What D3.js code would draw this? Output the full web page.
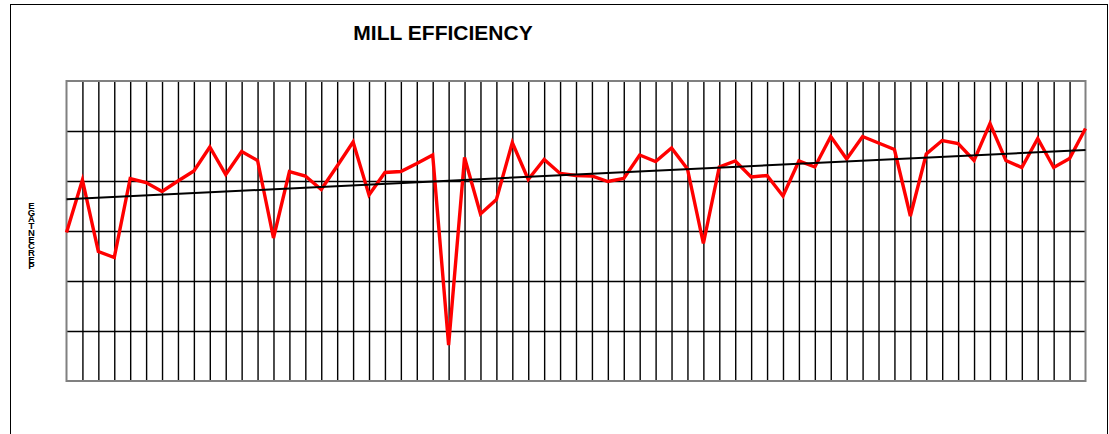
<!DOCTYPE html>
<html>
<head>
<meta charset="utf-8">
<script src="https://cdn.jsdelivr.net/npm/d3@7"></script>
<style>
  body { margin: 0; background: #fff; }
  svg { display: block; font-family: "Liberation Sans", Arial, sans-serif; }
</style>
</head>
<body>
<div id="chart"></div>
<script>
// chart text
const title = "MILL EFFICIENCY";
const yLabel = "PERCENTAGE";

// efficiency readings, one per period
const efficiency = [
  69.7, 80.2, 65.9, 64.7, 80.5, 79.7, 77.9, 80.0, 82.0, 86.8,
  81.3, 85.9, 84.1, 68.6, 81.9, 81.0, 78.3, 83.0, 87.8, 77.2,
  81.7, 81.9, 83.5, 85.2, 47.2, 84.7, 73.4, 76.3, 87.7, 80.3,
  84.3, 81.5, 81.1, 81.0, 79.9, 80.5, 85.2, 83.9, 86.6, 82.4,
  67.5, 82.8, 84.0, 80.8, 81.1, 77.0, 84.0, 82.8, 88.9, 84.4,
  88.9, 87.6, 86.3, 73.0, 85.4, 88.1, 87.5, 84.1, 91.5, 84.1,
  82.7, 88.5, 82.7, 84.5, 90.5
];

// value axis gridline positions (no labels are shown)
const yTicks = [40, 50, 60, 70, 80, 90, 100];

const W = 1109, H = 434;
const plot = { left: 66.5, right: 1085.5, top: 81, bottom: 381 };

const svg = d3.select("#chart").append("svg")
  .attr("width", W)
  .attr("height", H);

// outer frame
svg.append("rect")
  .attr("x", 10.5).attr("y", 4.5)
  .attr("width", 1097).attr("height", 440)
  .attr("fill", "none")
  .attr("stroke", "#000")
  .attr("stroke-width", 1);

const idx = d3.range(efficiency.length);

const x = d3.scaleLinear()
  .domain([0, efficiency.length - 1])
  .range([plot.left, plot.right]);

const y = d3.scaleLinear()
  .domain([yTicks[0], yTicks[yTicks.length - 1]])
  .range([plot.bottom, plot.top]);

// vertical gridlines, one per category
svg.append("g")
  .attr("transform", `translate(0,${plot.bottom})`)
  .call(d3.axisBottom(x).tickValues(idx.slice(1, -1))
    .tickSize(-(plot.bottom - plot.top)).tickFormat(""))
  .call(g => g.select(".domain").remove())
  .call(g => g.selectAll("line").attr("stroke", "#000").attr("stroke-width", 1.4));

// horizontal gridlines
svg.append("g")
  .attr("transform", `translate(${plot.left},0)`)
  .call(d3.axisLeft(y).tickValues(yTicks.slice(1, -1))
    .tickSize(-(plot.right - plot.left)).tickFormat(""))
  .call(g => g.select(".domain").remove())
  .call(g => g.selectAll("line").attr("stroke", "#000").attr("stroke-width", 1.4));

// plot border
svg.append("rect")
  .attr("x", plot.left).attr("y", plot.top)
  .attr("width", plot.right - plot.left)
  .attr("height", plot.bottom - plot.top)
  .attr("fill", "none")
  .attr("stroke", "#808080")
  .attr("stroke-width", 2);

// efficiency line
const line = d3.line()
  .x((d, i) => x(i))
  .y(d => y(d));

svg.append("path")
  .datum(efficiency)
  .attr("fill", "none")
  .attr("stroke", "#ff0000")
  .attr("stroke-width", 3.4)
  .attr("stroke-linejoin", "miter")
  .attr("d", line);

// linear trend (least squares)
const n = efficiency.length;
const mx = d3.mean(idx), my = d3.mean(efficiency);
let sxy = 0, sxx = 0;
idx.forEach(i => { sxy += (i - mx) * (efficiency[i] - my); sxx += (i - mx) * (i - mx); });
const slope = sxy / sxx, icpt = my - slope * mx;
const trend = [0, n - 1].map(i => [i, icpt + slope * i]);

svg.append("path")
  .datum(trend)
  .attr("fill", "none")
  .attr("stroke", "#000")
  .attr("stroke-width", 2)
  .attr("d", d3.line().x(d => x(d[0])).y(d => y(d[1])));

// title
svg.append("text")
  .attr("x", 443)
  .attr("y", 40)
  .attr("text-anchor", "middle")
  .style("font-size", "21px")
  .style("font-weight", "bold")
  .text(title);

// value axis title: letters stacked upright, read bottom to top
svg.append("text")
  .attr("x", 31.5)
  .attr("y", 200)
  .style("writing-mode", "vertical-rl")
  .style("text-orientation", "upright")
  .style("letter-spacing", "-4.3px")
  .style("font-size", "9.5px")
  .style("font-weight", "bold")
  .text(yLabel.split("").reverse().join(""));
</script>
</body>
</html>
